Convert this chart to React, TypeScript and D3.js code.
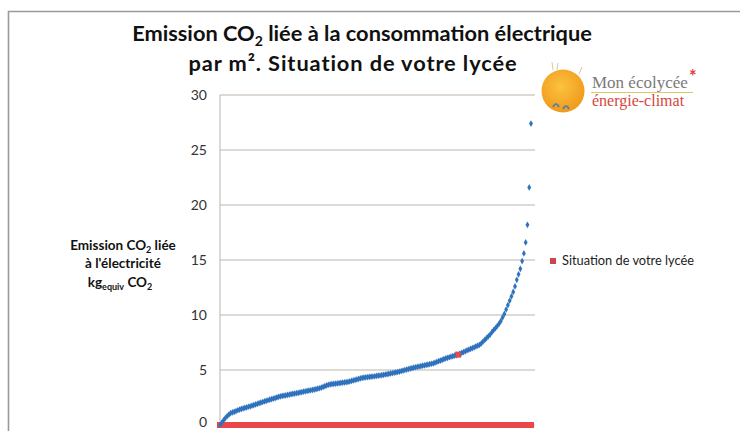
import React from 'react';
import * as d3 from 'd3';

// sorted emission values for every lycée (kg equiv CO2 / m²)
const emissions = [
  0, 0.21, 0.43, 0.63, 0.8, 0.95, 1.08, 1.14, 1.2, 1.27,
  1.34, 1.4, 1.46, 1.51, 1.56, 1.61, 1.66, 1.7, 1.76, 1.81,
  1.87, 1.92, 1.98, 2.03, 2.09, 2.14, 2.2, 2.25, 2.3, 2.35,
  2.4, 2.45, 2.51, 2.56, 2.61, 2.64, 2.67, 2.7, 2.73, 2.76,
  2.8, 2.83, 2.86, 2.89, 2.92, 2.96, 2.99, 3.03, 3.06, 3.1,
  3.13, 3.16, 3.19, 3.22, 3.26, 3.3, 3.34, 3.4, 3.46, 3.53,
  3.6, 3.66, 3.7, 3.72, 3.74, 3.76, 3.78, 3.8, 3.83, 3.85,
  3.87, 3.89, 3.92, 3.96, 4.01, 4.05, 4.1, 4.14, 4.19, 4.23,
  4.28, 4.31, 4.33, 4.35, 4.37, 4.39, 4.41, 4.43, 4.46, 4.48,
  4.5, 4.53, 4.56, 4.59, 4.62, 4.65, 4.69, 4.72, 4.75, 4.78,
  4.82, 4.86, 4.91, 4.95, 5.0, 5.04, 5.08, 5.13, 5.17, 5.21,
  5.25, 5.28, 5.32, 5.35, 5.39, 5.42, 5.46, 5.49, 5.53, 5.57,
  5.61, 5.67, 5.73, 5.8, 5.86, 5.92, 5.99, 6.05, 6.11, 6.16,
  6.21, 6.26, 6.31, 6.36, 6.4, 6.48, 6.55, 6.63, 6.7, 6.78,
  6.85, 6.92, 6.99, 7.06, 7.14, 7.21, 7.28, 7.42, 7.58, 7.74,
  7.9, 8.06, 8.22, 8.44, 8.63, 8.8, 9.0, 9.2, 9.45, 9.78,
  10.1, 10.5, 10.9, 11.3, 11.7, 12.1, 12.6, 13.2, 13.7, 14.2,
  14.9, 15.6, 16.6, 18.2, 21.6, 27.4,
];

// "Situation de votre lycée": 0 everywhere except your school
const votreIndex = 134;
const votreValue = 6.4;
const situation = emissions.map((_, i) => (i === votreIndex ? votreValue : 0));

const yTicks = [0, 5, 10, 15, 20, 25, 30];

const W = 740;
const H = 431;
const font = 'Lato, "Open Sans", sans-serif';
const serif = '"Liberation Serif", "DejaVu Serif", serif';

export default function App() {
  const x = d3.scaleLinear().domain([0, emissions.length - 1]).range([220, 531]);
  const y = d3.scaleLinear().domain([0, 30]).range([425, 95]);
  const diamond = d3.symbol().type(d3.symbolDiamond).size(13)();

  return (
    <svg
      width={W}
      height={H}
      style={{ position: 'absolute', left: 0, top: 0, background: '#fff' }}
    >
      {/* frame */}
      <path d={`M8.5,${H} V11.5 H${W}`} fill="none" stroke="#9a9a9a" strokeWidth={1.6} />

      {/* title */}
      <text x={362} y={41} textAnchor="middle" fontFamily={font} fontWeight="bold" fontSize={21.8} fill="#111">
        Emission CO<tspan fontSize={14} dy={5}>2</tspan>
        <tspan dy={-5}> liée à la consommation électrique</tspan>
      </text>
      <text x={353} y={71} textAnchor="middle" fontFamily={font} fontWeight="bold" fontSize={21.8} letterSpacing={0.9} fill="#111">
        par m². Situation de votre lycée
      </text>

      {/* grid */}
      {yTicks.map((t) => (
        <g key={t}>
          <line x1={220} x2={535} y1={y(t)} y2={y(t)} stroke="#bdb3ab" strokeWidth={1} />
          <text x={207} y={Math.min(y(t) + 5, 427)} textAnchor="end" fontFamily={font} fontSize={14} fill="#333">
            {t}
          </text>
        </g>
      ))}
      <line x1={220} x2={220} y1={y(30)} y2={y(0)} stroke="#bdb3ab" strokeWidth={1} />

      {/* y label */}
      <g fontFamily={font} fontWeight="bold" fontSize={13.5} fill="#111" textAnchor="middle">
        <text x={123} y={250}>
          Emission CO<tspan fontSize={9} dy={3}>2</tspan>
          <tspan dy={-3}> liée</tspan>
        </text>
        <text x={123} y={268}>à l'électricité</text>
        <text x={120} y={287}>
          kg<tspan fontSize={9} dy={3}>equiv</tspan>
          <tspan dy={-3}> CO</tspan>
          <tspan fontSize={9} dy={3}>2</tspan>
        </text>
      </g>

      {/* situation series (red squares) */}
      {situation.map((v, i) => (
        <rect key={'s' + i} x={x(i) - 3} y={y(v) - 3} width={6} height={6} fill="#e9474a" />
      ))}

      {/* emissions series (blue diamonds) */}
      {emissions.map((v, i) =>
        i === votreIndex ? null : (
          <path key={'e' + i} d={diamond} transform={`translate(${x(i)},${y(v)})`} fill="#2f72bd" />
        )
      )}
      <rect x={x(votreIndex) - 2.5} y={y(votreValue) - 2.5} width={5} height={5} fill="#e9474a" />

      {/* legend */}
      <rect x={550} y={258} width={6} height={6} fill="#c9484b" />
      <text x={562} y={265} fontFamily={font} fontSize={12.8} fill="#222">
        Situation de votre lycée
      </text>

      {/* logo */}
      <defs>
        <radialGradient id="sun" cx="45%" cy="40%" r="60%">
          <stop offset="0%" stopColor="#fbc340" />
          <stop offset="100%" stopColor="#f19a1c" />
        </radialGradient>
      </defs>
      <circle cx={563} cy={91} r={21.5} fill="url(#sun)" />
      <path d="M553,70 l-1,-8 M557,70 l1,-7 M579,74 l3,-7" stroke="#d8c8a0" strokeWidth={1} />
      <path d="M553,107 q3,-6 6,0 M563,109 q3,-6 6,0" stroke="#5c7fa8" strokeWidth={2} fill="none" />
      <text x={592} y={88} fontFamily={serif} fontSize={17} fill="#7a7a7a">
        Mon écolycée
      </text>
      <text x={689} y={83} fontFamily={font} fontSize={18} fill="#e0403c" fontWeight="bold">
        *
      </text>
      <line x1={591} x2={693} y1={92.5} y2={92.5} stroke="#d9c96a" strokeWidth={1} />
      <text x={592} y={106} fontFamily={serif} fontSize={16} fill="#d4473b">
        énergie-climat
      </text>
    </svg>
  );
}
